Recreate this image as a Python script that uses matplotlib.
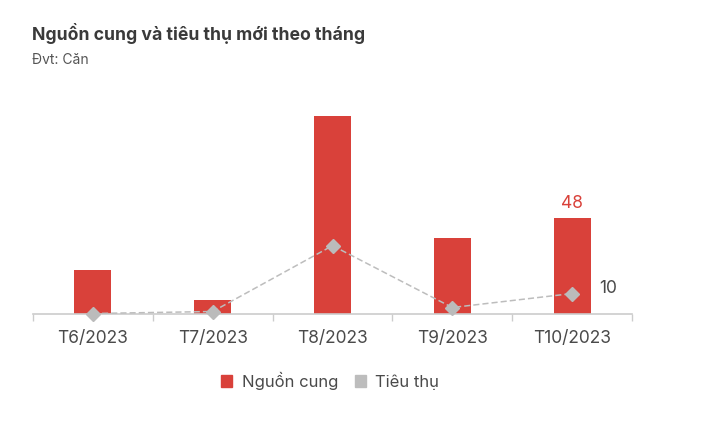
import matplotlib
matplotlib.use("Agg")
from matplotlib import pyplot as plt
from matplotlib.patches import Patch

months = ["T6/2023", "T7/2023", "T8/2023", "T9/2023", "T10/2023"]
nguon_cung = [22, 7, 99, 38, 48]
tieu_thu = [0, 1, 34, 3, 10]

plt.rcParams['font.family'] = ['Inter', 'DejaVu Sans']

RED = '#D9413A'
GRAY = '#BDBDBD'
TEXT = '#4a4a4a'

fig = plt.figure(figsize=(7.06, 4.30), dpi=100)
# axes in pixel terms: left 33, right 632, baseline y=313.5
ax = fig.add_axes([33 / 706, (430 - 313.5) / 430, (632 - 33) / 706, 213.5 / 430])

x = list(range(len(months)))
ax.bar(x, nguon_cung, width=0.31, color=RED, zorder=2)
ax.plot(x, tieu_thu, color=GRAY, linestyle=(0, (4, 2)), linewidth=1.1,
        marker='D', markersize=7.5, markerfacecolor='#BBBBBB',
        markeredgecolor='#BBBBBB', zorder=3, clip_on=False)

ax.set_xlim(-0.5, len(months) - 0.5)
ax.set_ylim(0, 107)

for s in ['top', 'right', 'left']:
    ax.spines[s].set_visible(False)
ax.spines['bottom'].set_color('#CCCCCC')
ax.spines['bottom'].set_linewidth(1.2)
ax.set_yticks([])
ax.set_xticks([i - 0.5 for i in range(len(months) + 1)])
ax.set_xticklabels([])
ax.tick_params(axis='x', length=5, color='#CCCCCC', width=1)
for i, m in enumerate(months):
    ax.text(i, -8.5, m, ha='center', va='top', fontsize=12.5, color=TEXT)

ax.text(4, nguon_cung[4] + 3, str(nguon_cung[4]), ha='center', va='bottom',
        fontsize=12.5, color=RED)
ax.text(4.23, tieu_thu[4] + 2.5, str(tieu_thu[4]), ha='left', va='center',
        fontsize=12.5, color=TEXT)

fig.text(32 / 706, 1 - 33 / 430, "Nguồn cung và tiêu thụ mới theo tháng",
         fontsize=12.7, fontweight='bold', color='#3a3a3a', va='center')
fig.text(32 / 706, 1 - 60 / 430, "Đvt: Căn", fontsize=10, color='#555555',
         va='center')

handles = [Patch(facecolor=RED, edgecolor=RED),
           Patch(facecolor=GRAY, edgecolor=GRAY)]
fig.legend(handles, ["Nguồn cung", "Tiêu thụ"], loc='center',
           bbox_to_anchor=(330 / 706, 1 - 381 / 430), ncol=2, frameon=False,
           fontsize=12, handlelength=0.7, handleheight=0.7,
           handletextpad=0.55, columnspacing=1.0, labelcolor=TEXT)

fig.savefig("out.png", dpi=100, facecolor='white')
